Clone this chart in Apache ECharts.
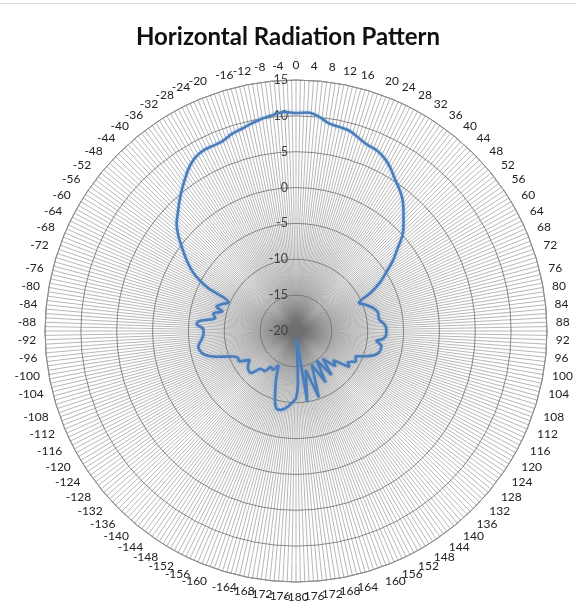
<!DOCTYPE html>
<html>
<head>
<meta charset="utf-8">
<script src="https://cdn.jsdelivr.net/npm/echarts@6/dist/echarts.min.js"></script>
<style>
  html, body { margin: 0; padding: 0; background: #ffffff; }
  #chart { width: 576px; height: 611px; }
</style>
</head>
<body>
<div id="chart"></div>
<script>
// Azimuth in degrees (negative = counter-clockwise from boresight)
const azimuthDeg = [
  -178, -175, -172, -169, -166, -163, -160, -157, -153, -149, -145, -142, -137, -133,
  -127, -122, -118, -115, -112, -108, -104, -99, -95, -92, -89, -86, -84, -81, -78,
  -75, -73, -70, -67, -64, -62, -60, -57, -54, -51, -48, -45, -42, -39, -36, -33,
  -30, -27, -24, -21, -18, -15, -12, -9, -6, -3,
  0, 3, 6, 9, 12, 15, 18, 21, 24, 27, 30, 33, 36, 39, 42, 45, 48, 51, 54, 57, 60,
  63, 66, 69, 73, 77, 82, 86, 89, 92, 95, 97, 100, 104, 107, 110, 113, 117, 121,
  124, 128, 132, 136, 141, 145, 150, 155, 161, 166, 171, 175, 178, 180
];

// Gain in dB at each azimuth
const gainDb = [
  -10.2, -9.6, -9.1, -8.8, -8.8, -10.0, -11.6, -13.0, -14.7, -13.7, -13.9, -12.9, -12.8, -11.4,
  -11.6, -12.4, -11.0, -11.1, -10.5, -8.4, -6.7, -6.2, -6.8, -7.1, -7.1, -6.1, -6.5, -8.6, -8.2,
  -9.4, -8.4, -9.0, -9.8, -6.4, -4.6, -3.3, -1.8, -0.4, 1.1, 2.4, 3.3, 4.3, 5.3, 6.3, 7.3,
  8.0, 8.3, 8.3, 8.4, 8.9, 9.2, 9.6, 10.0, 10.3, 10.6,
  10.4, 10.5, 10.1, 9.3, 9.1, 8.9, 8.3, 7.8, 7.6, 7.1, 6.3, 5.3, 4.5, 3.6, 2.4, 1.2, 0.0,
  -1.8, -3.3, -5.0, -6.5,
  -8.4, -10.4, -9.7, -8.8, -8.3, -8.3, -7.6, -7.4, -7.4, -7.8, -8.7, -7.9, -8.0, -8.5, -9.7, -11.0, -10.6, -11.6,
  -11.0, -13.4, -12.6, -14.6, -12.1, -15.0, -11.7, -14.8, -10.2, -14.4, -10.0, -18.9, -12.5, -10.6
];

// Radial scale (dB) and angular tick spacing (degrees)
const radiusTicks = [-20, -15, -10, -5, 0, 5, 10, 15];
const angleTickStep = 4;

// Polar points: [gain, azimuth mapped onto 0..360], closed back to the start
const points = azimuthDeg.map((a, i) => [gainDb[i], a < 0 ? a + 360 : a]);
points.push(points[0]);

function angleLabel(v) {
  if (v === 360) return '';
  if (v === 180) return '-180';
  return String(v > 180 ? v - 360 : v);
}

const chart = echarts.init(document.getElementById('chart'), null, { renderer: 'canvas' });
chart.setOption({
  backgroundColor: '#ffffff',
  animation: false,
  graphic: [{
    type: 'line',
    shape: { x1: 0, y1: 3.5, x2: 576, y2: 3.5 },
    style: { stroke: '#d9d9d9', lineWidth: 1 }
  }],
  title: {
    text: 'Horizontal Radiation Pattern',
    left: 'center',
    top: 20,
    textStyle: { fontFamily: 'Lato', fontWeight: 'bold', fontSize: 24, color: '#111111' }
  },
  polar: { center: [296, 331], radius: 251 },
  angleAxis: {
    type: 'value',
    min: 0,
    max: 360,
    interval: angleTickStep,
    startAngle: 90,
    clockwise: true,
    axisLine: { show: true, lineStyle: { color: '#8c8c8c', width: 1 } },
    axisTick: { show: false },
    axisLabel: {
      margin: 9,
      fontFamily: 'Lato',
      fontSize: 12,
      color: '#222222',
      formatter: angleLabel
    },
    splitLine: { show: true, lineStyle: { color: '#6e6e6e', width: 0.5 } },
    minorTick: { show: false, splitNumber: 4 },
    minorSplitLine: { show: true, lineStyle: { color: '#6e6e6e', width: 0.5 } }
  },
  radiusAxis: {
    type: 'value',
    min: radiusTicks[0],
    max: radiusTicks[radiusTicks.length - 1],
    interval: 5,
    axisLine: { show: false },
    axisTick: { show: false },
    axisLabel: {
      fontFamily: 'Lato',
      fontSize: 12.5,
      color: '#404040'
    },
    splitLine: { show: true, lineStyle: { color: '#8c8c8c', width: 1 } }
  },
  series: [{
    type: 'line',
    coordinateSystem: 'polar',
    data: points,
    symbol: 'none',
    smooth: 0.3,
    lineStyle: {
      color: '#4a7ebb',
      width: 2.6,
      shadowColor: 'rgba(80,140,220,0.45)',
      shadowBlur: 3
    },
    z: 5
  }]
});
</script>
</body>
</html>
